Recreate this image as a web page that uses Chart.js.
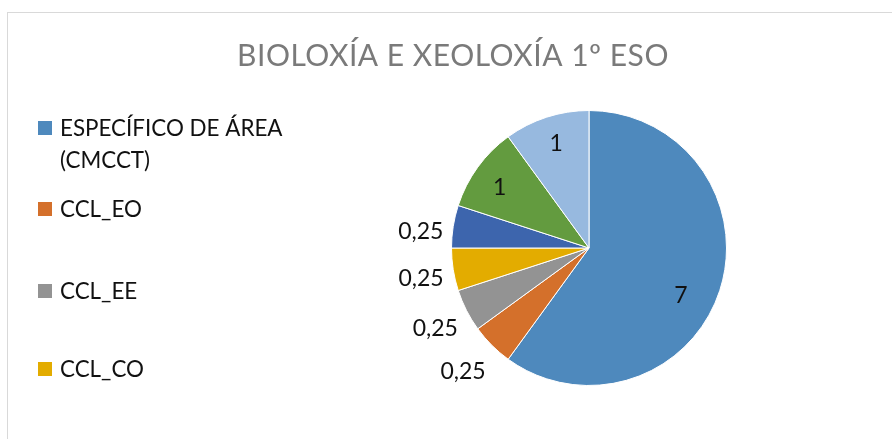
<!DOCTYPE html>
<html>
<head>
<meta charset="utf-8">
<script src="https://cdn.jsdelivr.net/npm/chart.js@4"></script>
<style>
    html, body { margin: 0; padding: 0; background: #fff; overflow: hidden; }
    #wrap { position: relative; width: 892px; height: 439px; overflow: hidden; }
    #frame { position: absolute; left: 7px; top: 12px; width: 1000px; height: 1000px; border: 1.5px solid #d9d9d9; }
    #pie { position: absolute; left: 0; top: 0; }
</style>
</head>
<body>
<div id="wrap">
    <div id="frame"></div>
    <canvas id="pie" width="892" height="439"></canvas>
</div>
<script>
/* =============================================
   Pie — Bioloxía e Xeoloxía 1º ESO
   ============================================= */

// --- Data ---
const chartTitle = 'BIOLOXÍA E XEOLOXÍA 1º ESO';
const categories = ['ESPECÍFICO DE ÁREA (CMCCT)', 'CCL_EO', 'CCL_EE', 'CCL_CO', 'CCL_CE', 'CD', 'CAA'];
const legendLines = [['ESPECÍFICO DE ÁREA', '(CMCCT)'], ['CCL_EO'], ['CCL_EE'], ['CCL_CO']];
// slice sizes as drawn (share of the grade, %)
const sliceShares = [60, 5, 5, 5, 5, 10, 10];
// numbers printed on the slices
const labelValues = [7, 0.25, 0.25, 0.25, 0.25, 1, 1];

// --- Colors ---
const SLICE_COLORS = ['#4e89bd', '#d4702b', '#939393', '#e3ac00', '#3d65ad', '#639b3f', '#97b9df'];
const TEXT_COLOR = '#111111';
const TITLE_COLOR = '#7a7a7a';
const FONT = "'Lato', 'Open Sans', sans-serif";

// --- Label placement (relative to each slice's mid angle) ---
const labelShiftDeg = [9, 0.7, -0.5, -1, -3, -1.3, 0.7];
const labelRadius = [0.75, 1.28, 1.26, 1.24, 1.23, 0.79, 0.8];

// --- Legend layout (truncated like the original: only 4 entries fit) ---
const legendRowY = [128, 209, 291, 369];
const LEGEND_X = 38, LEGEND_BOX = 14, LEGEND_TEXT_X = 60, LEGEND_LINE = 32;

const fmt = v => String(v).replace('.', ',');

const decorPlugin = {
    id: 'decor',
    afterDraw(chart) {
        const ctx = chart.ctx;
        ctx.save();

        // title
        ctx.fillStyle = TITLE_COLOR;
        ctx.font = `400 30px ${FONT}`;
        ctx.letterSpacing = '0.5px';
        ctx.textAlign = 'center';
        ctx.textBaseline = 'alphabetic';
        ctx.fillText(chartTitle, 453, 66);
        ctx.letterSpacing = '0px';

        // legend
        ctx.textAlign = 'left';
        ctx.textBaseline = 'middle';
        ctx.font = `22.4px ${FONT}`;
        legendLines.forEach((lines, i) => {
            const y = legendRowY[i];
            ctx.fillStyle = SLICE_COLORS[i];
            ctx.fillRect(LEGEND_X, y - LEGEND_BOX / 2, LEGEND_BOX, LEGEND_BOX);
            ctx.fillStyle = TEXT_COLOR;
            lines.forEach((t, k) => ctx.fillText(t, LEGEND_TEXT_X, y + k * LEGEND_LINE + 1));
        });

        // data labels
        const meta = chart.getDatasetMeta(0);
        ctx.textAlign = 'center';
        ctx.font = `23px ${FONT}`;
        meta.data.forEach((arc, i) => {
            const p = arc.getProps(['x', 'y', 'startAngle', 'endAngle', 'outerRadius'], true);
            const mid = (p.startAngle + p.endAngle) / 2 + labelShiftDeg[i] * Math.PI / 180;
            const r = p.outerRadius * labelRadius[i];
            ctx.fillStyle = TEXT_COLOR;
            ctx.fillText(fmt(labelValues[i]), p.x + r * Math.cos(mid), p.y + r * Math.sin(mid) + 1);
        });
        ctx.restore();
    }
};

new Chart(document.getElementById('pie'), {
    type: 'pie',
    data: {
        labels: categories,
        datasets: [{
            data: sliceShares,
            backgroundColor: SLICE_COLORS,
            borderColor: '#ffffff',
            borderWidth: 1,
        }]
    },
    options: {
        responsive: false,
        animation: false,
        layout: { padding: { left: 451, right: 165, top: 110, bottom: 53 } },
        plugins: {
            legend: { display: false },
            title: { display: false },
            tooltip: { enabled: false }
        }
    },
    plugins: [decorPlugin]
});
</script>
</body>
</html>
